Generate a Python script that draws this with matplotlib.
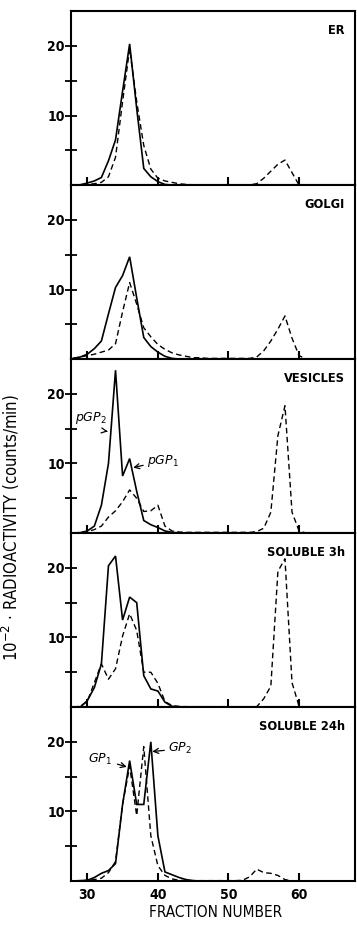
import matplotlib
matplotlib.use('Agg')
import matplotlib.pyplot as plt

plt.rcParams['font.family'] = ['DejaVu Sans']

# fractions 28..66
fractions = list(range(28, 67))

panel_labels = ['ER', 'GOLGI', 'VESICLES', 'SOLUBLE 3h', 'SOLUBLE 24h']

er_solid = [0, 0.05, 0.3, 0.6, 1.1, 3.5, 6.5, 13.5, 20.3, 11,
            2.4, 1.2, 0.5, 0.1, 0, 0, 0, 0, 0, 0,
            0, 0, 0, 0, 0, 0, 0, 0, 0, 0,
            0, 0, 0, 0, 0, 0, 0, 0, 0]
er_dashed = [0, 0, 0.1, 0.2, 0.4, 1.2, 4, 12, 19.6, 12,
             5.7, 2.3, 1.0, 0.6, 0.4, 0.2, 0.1, 0.05, 0.05, 0.05,
             0.05, 0.05, 0.05, 0.05, 0.05, 0.05, 0.2, 1.0, 2.0, 3.0,
             3.6, 1.8, 0, 0, 0, 0, 0, 0, 0]

golgi_solid = [0.1, 0.3, 0.7, 1.5, 2.6, 6.5, 10.3, 12, 14.7, 8.8,
               3.1, 1.8, 1.0, 0.4, 0.1, 0, 0, 0, 0, 0,
               0, 0, 0, 0, 0, 0, 0, 0, 0, 0,
               0, 0, 0, 0, 0, 0, 0, 0, 0]
golgi_dashed = [0.1, 0.3, 0.5, 0.7, 1.0, 1.3, 2.2, 6.8, 11, 7.9,
                4.5, 3.2, 2.1, 1.4, 0.9, 0.6, 0.4, 0.2, 0.2, 0.1,
                0.1, 0.1, 0.1, 0.1, 0.1, 0.1, 0.3, 1.2, 2.6, 4.3,
                6.2, 3.0, 0.5, 0, 0, 0, 0, 0, 0]

ves_solid = [0, 0.05, 0.3, 1.0, 4.0, 10, 23.4, 8.2, 10.7, 6.0,
             1.8, 1.2, 0.8, 0.3, 0.1, 0, 0, 0, 0, 0,
             0, 0, 0, 0, 0, 0, 0, 0, 0, 0,
             0, 0, 0, 0, 0, 0, 0, 0, 0]
ves_dashed = [0, 0.1, 0.2, 0.5, 1.0, 2.3, 3.2, 4.5, 6.2, 5.0,
              3.1, 3.2, 4.0, 1.0, 0.3, 0.15, 0.1, 0.1, 0.1, 0.1,
              0.1, 0.1, 0.1, 0.1, 0.1, 0.1, 0.2, 0.7, 3.0, 14,
              18.3, 3.0, 0.3, 0, 0, 0, 0, 0, 0]

sol3_solid = [0, 0, 0.9, 2.8, 6.2, 20.3, 21.7, 12.5, 15.8, 15,
              4.5, 2.6, 2.3, 0.7, 0.1, 0, 0, 0, 0, 0,
              0, 0, 0, 0, 0, 0, 0, 0, 0, 0,
              0, 0, 0, 0, 0, 0, 0, 0, 0]
sol3_dashed = [0, 0.1, 0.8, 3.5, 6.2, 4.0, 5.5, 10.2, 13.4, 11,
               5.0, 5.0, 3.4, 0.8, 0.2, 0.1, 0.05, 0.05, 0.05, 0.05,
               0.05, 0.05, 0.05, 0.05, 0.05, 0.05, 0.05, 1.2, 3.0, 19.5,
               21.3, 3.5, 0.1, 0, 0, 0, 0, 0, 0]

sol24_solid = [0, 0.05, 0.1, 0.5, 1.1, 1.5, 2.5, 11, 17.3, 11,
               11, 20, 6.5, 1.3, 0.9, 0.5, 0.2, 0.05, 0, 0,
               0, 0, 0, 0, 0, 0, 0, 0, 0, 0,
               0, 0, 0, 0, 0, 0, 0, 0, 0]
sol24_dashed = [0, 0, 0.1, 0.2, 0.4, 1.2, 2.8, 11, 16.5, 9.4,
                19.3, 6.5, 2.2, 0.8, 0.3, 0.1, 0.05, 0.05, 0.05, 0.05,
                0.05, 0.05, 0.05, 0.05, 0.1, 0.6, 1.7, 1.2, 1.1, 0.8,
                0.2, 0, 0, 0, 0, 0, 0, 0, 0]

solids = [er_solid, golgi_solid, ves_solid, sol3_solid, sol24_solid]
dasheds = [er_dashed, golgi_dashed, ves_dashed, sol3_dashed, sol24_dashed]

fig, axes = plt.subplots(5, 1, figsize=(3.57, 9.30), dpi=100, sharex=True,
                         gridspec_kw={'hspace': 0})
fig.subplots_adjust(left=0.199, right=0.994, top=0.988, bottom=0.0527)

for ax, lab, s, d in zip(axes, panel_labels, solids, dasheds):
    ax.plot(fractions, s, color='black', lw=1.2, solid_joinstyle='miter')
    ax.plot(fractions, d, color='black', lw=1.0, dashes=(4, 2.5))
    ax.set_xlim(27.7, 67.9)
    ax.set_ylim(0, 25)
    ax.set_yticks([5, 10, 15, 20])
    ax.set_yticklabels(['', '10', '', '20'], fontsize=10, fontweight='bold',
                       fontstretch='condensed')
    ax.set_xticks([30, 40, 50, 60])
    ax.tick_params(axis='y', direction='inout', length=9, width=1.3, pad=0)
    ax.tick_params(axis='x', direction='in', length=6, width=1.5, pad=5)
    for sp in ax.spines.values():
        sp.set_linewidth(1.5)
    ax.text(0.965, 0.89, lab, transform=ax.transAxes, ha='right', va='center',
            fontsize=9.2, fontweight='bold', fontstretch='condensed')

axes[-1].set_xticklabels(['30', '40', '50', '60'], fontsize=10, fontweight='bold',
                         fontstretch='condensed')

# annotations
axes[2].annotate(r'$pGP_2$', xy=(32.9, 14.6), xytext=(28.3, 16.6),
                 fontsize=9, va='center', ha='left',
                 arrowprops=dict(arrowstyle='->', lw=0.9, color='black',
                                 shrinkA=6, shrinkB=0,
                                 connectionstyle='arc3,rad=0.3'))
axes[2].annotate(r'$pGP_1$', xy=(36.5, 9.4), xytext=(38.5, 10.4),
                 fontsize=9, va='center', ha='left',
                 arrowprops=dict(arrowstyle='->', lw=0.9, color='black',
                                 shrinkA=1, shrinkB=0))
axes[4].annotate(r'$GP_1$', xy=(35.6, 16.4), xytext=(30.1, 17.5),
                 fontsize=9, va='center', ha='left',
                 arrowprops=dict(arrowstyle='->', lw=0.9, color='black',
                                 shrinkA=2, shrinkB=0))
axes[4].annotate(r'$GP_2$', xy=(39.2, 18.6), xytext=(41.5, 19.0),
                 fontsize=9, va='center', ha='left',
                 arrowprops=dict(arrowstyle='->', lw=0.9, color='black',
                                 shrinkA=1, shrinkB=0))

fig.text(0.03, 0.433, r'10$^{-2}$ · RADIOACTIVITY (counts/min)', rotation=90,
         ha='center', va='center', fontsize=12, fontstretch='condensed')
fig.text(0.605, 0.019, 'FRACTION NUMBER', ha='center', va='center', fontsize=11,
         fontstretch='condensed')

plt.savefig('out.png', dpi=100)
